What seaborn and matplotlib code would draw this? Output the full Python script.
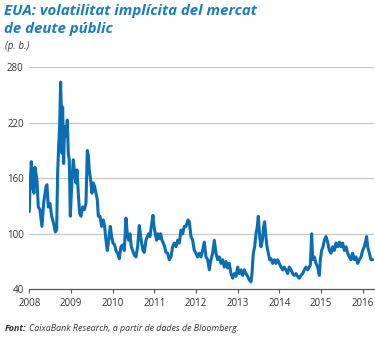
import matplotlib
matplotlib.use("Agg")
import matplotlib.pyplot as plt
import seaborn as sns
import pandas as pd

# decimal years and MOVE-like implied volatility values (p. b.)
dates = [
    2008.000, 2008.016, 2008.048, 2008.080, 2008.112, 2008.136, 2008.160, 2008.184, 2008.216, 2008.256,
    2008.304, 2008.344, 2008.400, 2008.424, 2008.456, 2008.496, 2008.536, 2008.584, 2008.624, 2008.656,
    2008.680, 2008.704, 2008.728, 2008.752, 2008.768, 2008.784, 2008.800, 2008.824, 2008.848, 2008.880,
    2008.912, 2008.936, 2008.960, 2008.984, 2009.024, 2009.056, 2009.088, 2009.120, 2009.144, 2009.176,
    2009.208, 2009.240, 2009.280, 2009.320, 2009.360, 2009.392, 2009.416, 2009.440, 2009.472, 2009.504,
    2009.536, 2009.568, 2009.600, 2009.632, 2009.656, 2009.696, 2009.736, 2009.776, 2009.808, 2009.840,
    2009.872, 2009.904, 2009.944, 2009.976, 2010.008, 2010.048, 2010.080, 2010.120, 2010.160, 2010.200,
    2010.240, 2010.280, 2010.320, 2010.352, 2010.384, 2010.416, 2010.448, 2010.480, 2010.520, 2010.560,
    2010.600, 2010.640, 2010.664, 2010.696, 2010.728, 2010.760, 2010.800, 2010.832, 2010.864, 2010.896,
    2010.928, 2010.968, 2010.992, 2011.024, 2011.056, 2011.088, 2011.120, 2011.152, 2011.184, 2011.216,
    2011.248, 2011.280, 2011.320, 2011.360, 2011.400, 2011.440, 2011.480, 2011.520, 2011.560, 2011.600,
    2011.640, 2011.680, 2011.720, 2011.760, 2011.808, 2011.840, 2011.880, 2011.920, 2011.960, 2012.000,
    2012.040, 2012.080, 2012.120, 2012.160, 2012.200, 2012.240, 2012.280, 2012.320, 2012.360, 2012.400,
    2012.440, 2012.480, 2012.520, 2012.560, 2012.600, 2012.640, 2012.680, 2012.720, 2012.760, 2012.800,
    2012.840, 2012.880, 2012.920, 2012.960, 2013.000, 2013.040, 2013.080, 2013.120, 2013.160, 2013.200,
    2013.240, 2013.280, 2013.320, 2013.344, 2013.376, 2013.408, 2013.440, 2013.472, 2013.496, 2013.528,
    2013.560, 2013.592, 2013.624, 2013.648, 2013.672, 2013.704, 2013.736, 2013.768, 2013.800, 2013.840,
    2013.880, 2013.920, 2013.960, 2014.000, 2014.040, 2014.080, 2014.120, 2014.160, 2014.200, 2014.240,
    2014.280, 2014.320, 2014.360, 2014.400, 2014.440, 2014.480, 2014.520, 2014.560, 2014.600, 2014.640,
    2014.680, 2014.720, 2014.744, 2014.776, 2014.800, 2014.840, 2014.880, 2014.920, 2014.960, 2014.984,
    2015.016, 2015.048, 2015.080, 2015.120, 2015.160, 2015.200, 2015.240, 2015.280, 2015.320, 2015.360,
    2015.400, 2015.440, 2015.480, 2015.520, 2015.560, 2015.600, 2015.640, 2015.680, 2015.720, 2015.760,
    2015.800, 2015.840, 2015.880, 2015.920, 2015.960, 2016.000, 2016.040, 2016.096, 2016.120, 2016.160,
    2016.200, 2016.240,
]
values = [
    124, 147, 178, 151, 144, 172, 165, 158, 129, 126,
    108, 133, 151, 153, 129, 133, 119, 111, 102, 104,
    165, 194, 216, 264, 234, 187, 237, 176, 216, 205,
    223, 187, 180, 119, 158, 180, 165, 155, 169, 144,
    122, 119, 129, 126, 133, 190, 185, 169, 158, 144,
    155, 151, 144, 137, 119, 119, 108, 115, 108, 93,
    82, 93, 108, 97, 90, 88, 82, 79, 73, 86,
    88, 82, 117, 100, 93, 100, 86, 82, 77, 75,
    86, 109, 100, 90, 82, 80, 93, 97, 100, 97,
    108, 120, 108, 100, 93, 100, 95, 100, 93, 90,
    86, 80, 79, 72, 75, 86, 90, 86, 93, 90,
    104, 100, 108, 108, 115, 113, 97, 93, 82, 79,
    75, 79, 75, 82, 91, 75, 72, 61, 72, 79,
    93, 79, 72, 75, 68, 72, 64, 70, 63, 68,
    57, 52, 57, 54, 64, 57, 61, 55, 61, 57,
    54, 50, 48, 57, 79, 86, 100, 108, 119, 97,
    86, 93, 108, 113, 100, 86, 79, 72, 73, 68,
    72, 68, 72, 68, 64, 61, 64, 61, 57, 64,
    61, 57, 55, 57, 54, 52, 55, 57, 61, 64,
    61, 64, 66, 100, 72, 75, 68, 64, 55, 72,
    82, 86, 93, 97, 91, 82, 79, 86, 82, 90,
    86, 91, 86, 90, 82, 86, 79, 75, 72, 79,
    72, 75, 68, 72, 75, 82, 86, 97, 86, 79,
    72, 72,
]
year_ticks = [2008, 2009, 2010, 2011, 2012, 2013, 2014, 2015, 2016]
y_ticks = [40, 100, 160, 220, 280]

df = pd.DataFrame({"date": dates, "value": values})

sns.set_theme(style="white")
plt.rcParams["font.family"] = ["Open Sans", "DejaVu Sans"]

BLUE = "#0b6db3"
TITLE_BLUE = "#1a7cc4"
TXT = "#333333"

fig = plt.figure(figsize=(3.75, 3.38), dpi=100)
ax = fig.add_axes([0.0781, 0.1441, 0.919, 0.6568])

sns.lineplot(data=df, x="date", y="value", ax=ax, color=BLUE, linewidth=2.2,
             estimator=None, sort=False)

ax.set_xlim(2008.0, 2016.27)
ax.set_ylim(40, 280)
ax.set_xticks(year_ticks)
ax.set_xticklabels([str(y) for y in year_ticks])
ax.set_yticks(y_ticks)
ax.set_yticklabels([str(y) for y in y_ticks])
ax.set_xlabel("")
ax.set_ylabel("")

for v in y_ticks[1:]:
    ax.axhline(v, color="#c8c8c8", linewidth=0.9, zorder=0)

for s in ["top", "right", "left"]:
    ax.spines[s].set_visible(False)
ax.spines["bottom"].set_color("#555555")
ax.spines["bottom"].set_linewidth(0.9)

ax.tick_params(axis="x", which="major", direction="out", length=3, width=0.8,
               color="#555555", labelsize=7, labelcolor=TXT, pad=3, bottom=True)
ax.tick_params(axis="y", which="major", length=0, labelsize=7, labelcolor=TXT, pad=4)

fig.text(0.01, 0.987, "EUA: volatilitat implícita del mercat\nde deute públic",
         color=TITLE_BLUE, fontsize=10.8, fontweight="bold", fontstyle="italic",
         va="top", ha="left", linespacing=1.3)
fig.text(0.013, 0.862, "(p. b.)", color=TXT, fontsize=7, fontstyle="italic",
         va="center", ha="left")
fig.text(0.013, 0.027, "Font:", color=TXT, fontsize=6.4, fontstyle="italic",
         fontweight="bold", va="center", ha="left")
fig.text(0.078, 0.027, "CaixaBank Research, a partir de dades de Bloomberg.", color=TXT,
         fontsize=6.4, fontstyle="italic", va="center", ha="left")

fig.savefig("out.png", dpi=100, facecolor="white")
